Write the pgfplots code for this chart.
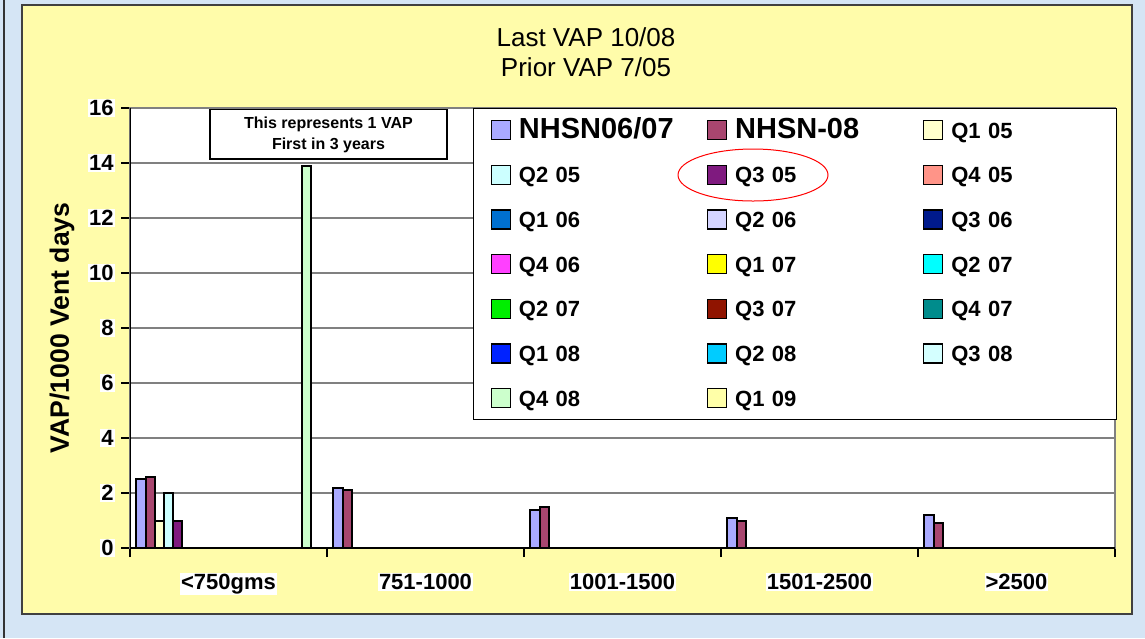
\documentclass[border=0pt]{standalone}
\usepackage{pgfplots}
\pgfplotsset{compat=1.18}
\usepackage{pgfplotstable}
\usepackage{fontspec}
\setmainfont{Liberation Sans}

\definecolor{bgblue}{HTML}{D5E5F5}
\definecolor{panel}{HTML}{FFFCAA}
\definecolor{gridgray}{HTML}{808080}
\definecolor{cNa}{HTML}{AAAAFF}
\definecolor{cNb}{HTML}{A8466F}
\definecolor{cQ105}{HTML}{FFFFCC}
\definecolor{cQ205}{HTML}{CCFFFF}
\definecolor{cQ305}{HTML}{7F1A7F}
\definecolor{cQ405}{HTML}{FF9488}
\definecolor{cQ106}{HTML}{0070D0}
\definecolor{cQ206}{HTML}{D4D4FF}
\definecolor{cQ306}{HTML}{001A8C}
\definecolor{cQ406}{HTML}{FF40FF}
\definecolor{cQ107}{HTML}{FFFF00}
\definecolor{cQ207}{HTML}{00FFFF}
\definecolor{cQ207b}{HTML}{00EE00}
\definecolor{cQ307}{HTML}{901400}
\definecolor{cQ407}{HTML}{008C8C}
\definecolor{cQ108}{HTML}{0022FF}
\definecolor{cQ208}{HTML}{00CCFF}
\definecolor{cQ308}{HTML}{D4FFFF}
\definecolor{cQ408}{HTML}{CCFFCC}
\definecolor{cQ109}{HTML}{FFFFA8}

% rows = birth weight groups, columns = series
\pgfplotstableread{
x na  nb  q105 q205 q305 q405 q106 q206 q306 q406 q107 q207 q207b q307 q407 q108 q208 q308 q408 q109
0 2.5 2.6 1.0  2.0  1.0  0    0    0    0    0    0    0    0     0    0    0    0    0    13.9 0
1 2.2 2.1 0    0    0    0    0    0    0    0    0    0    0     0    0    0    0    0    0    0
2 1.4 1.5 0    0    0    0    0    0    0    0    0    0    0     0    0    0    0    0    0    0
3 1.1 1.0 0    0    0    0    0    0    0    0    0    0    0     0    0    0    0    0    0    0
4 1.2 0.9 0    0    0    0    0    0    0    0    0    0    0     0    0    0    0    0    0    0
}\vapdata

\newcommand{\vapbar}[3]{%
  \addplot[fill=#2, draw=black, line width=1pt] table[x=x, y=#1] {\vapdata};
  \addlegendentry{#3}}

\begin{document}
\begin{tikzpicture}
  \useasboundingbox (0,0) rectangle (572.5pt,319pt);
  \fill[bgblue] (0,0) rectangle (572.5pt,319pt);
  \draw[black!80, line width=1pt] (2pt,0) -- (2pt,319pt);
  \draw[panel, fill=panel] (11pt,12pt) rectangle (566pt,316.5pt);
  \draw[black!75, line width=0.6pt] (11pt,12pt) rectangle (566pt,316.5pt);

  \node[font=\fontsize{13}{15}\selectfont] at (293pt,300.5pt) {Last VAP 10/08};
  \node[font=\fontsize{13}{15}\selectfont] at (293pt,285.5pt) {Prior VAP 7/05};

  \begin{axis}[
    at={(65pt,45pt)}, anchor=south west,
    scale only axis, width=492.5pt, height=220pt,
    ybar=0pt, bar width=4.6pt,
    xmin=-0.5, xmax=4.5, ymin=0, ymax=16,
    % ticks sit on the group borders, names shifted to the group centres
    xtick={-0.5,0.5,...,4.5},
    xticklabels={<750gms,751-1000,1001-1500,1501-2500,>2500,{}},
    ytick={0,2,...,16},
    tick pos=left, tick align=outside,
    major tick length=4.5pt,
    tick style={black, line width=0.6pt},
    ymajorgrids, grid style={gridgray, line width=0.7pt},
    axis line style={gridgray, line width=0.7pt},
    axis background/.style={fill=white},
    /pgf/number format/assume math mode=true,
    ticklabel style={font=\bfseries\fontsize{11}{13}\selectfont, fill=white, inner sep=0.5pt},
    xticklabel style={xshift=49.25pt, yshift=-8pt},
    yticklabel style={xshift=-3pt},
    ylabel={VAP/1000 Vent days},
    every axis y label/.style={at={(axis description cs:-0.069,0.5)}, rotate=90, anchor=center,
      font=\bfseries\fontsize{13.3}{15}\selectfont},
    legend columns=3,
    legend cell align=left,
    legend image code/.code={\draw[#1, draw=black, line width=0.6pt] (0pt,-4.75pt) rectangle (9.5pt,4.75pt);},
    legend style={at={(rel axis cs:1.002,1)}, anchor=north east,
      draw=black, fill=white, line width=0.6pt,
      inner xsep=8.5pt, inner ysep=4.7pt, row sep=10.35pt,
      font=\bfseries\fontsize{11}{13}\selectfont,
      nodes={text width=72pt, text height=8pt, text depth=0pt, inner sep=2pt},
      /tikz/every odd column/.append style={column sep=2pt},
      /tikz/every even column/.append style={column sep=20pt}},
  ]
    \vapbar{na}{cNa}{\fontsize{14.5}{16}\selectfont NHSN06/07}
    \vapbar{nb}{cNb}{\fontsize{14.5}{16}\selectfont NHSN-08}
    \vapbar{q105}{cQ105}{Q1 05}
    \vapbar{q205}{cQ205}{Q2 05}
    \vapbar{q305}{cQ305}{Q3 05}
    \vapbar{q405}{cQ405}{Q4 05}
    \vapbar{q106}{cQ106}{Q1 06}
    \vapbar{q206}{cQ206}{Q2 06}
    \vapbar{q306}{cQ306}{Q3 06}
    \vapbar{q406}{cQ406}{Q4 06}
    \vapbar{q107}{cQ107}{Q1 07}
    \vapbar{q207}{cQ207}{Q2 07}
    \vapbar{q207b}{cQ207b}{Q2 07}
    \vapbar{q307}{cQ307}{Q3 07}
    \vapbar{q407}{cQ407}{Q4 07}
    \vapbar{q108}{cQ108}{Q1 08}
    \vapbar{q208}{cQ208}{Q2 08}
    \vapbar{q308}{cQ308}{Q3 08}
    \vapbar{q408}{cQ408}{Q4 08}
    \vapbar{q109}{cQ109}{Q1 09}

    % left and bottom axis lines in black
    \draw[black, line width=0.6pt] (rel axis cs:0,1) -- (rel axis cs:0,0) -- (rel axis cs:1,0);
    % note box over the tall bar
    \node[draw=black, fill=white, line width=0.6pt, minimum width=118.5pt, minimum height=24.5pt,
      align=center, font=\bfseries\fontsize{8}{10.5}\selectfont]
      at (rel axis cs:0.2015,0.94) {This represents 1 VAP\\First in 3 years};
    \coordinate (ring) at (rel axis cs:0.6325,0.8477);
  \end{axis}
  % red ring round the Q3 05 legend entry, drawn above the legend
  \draw[red, line width=0.5pt] (ring) ellipse [x radius=37.5pt, y radius=13pt];
\end{tikzpicture}
\end{document}
